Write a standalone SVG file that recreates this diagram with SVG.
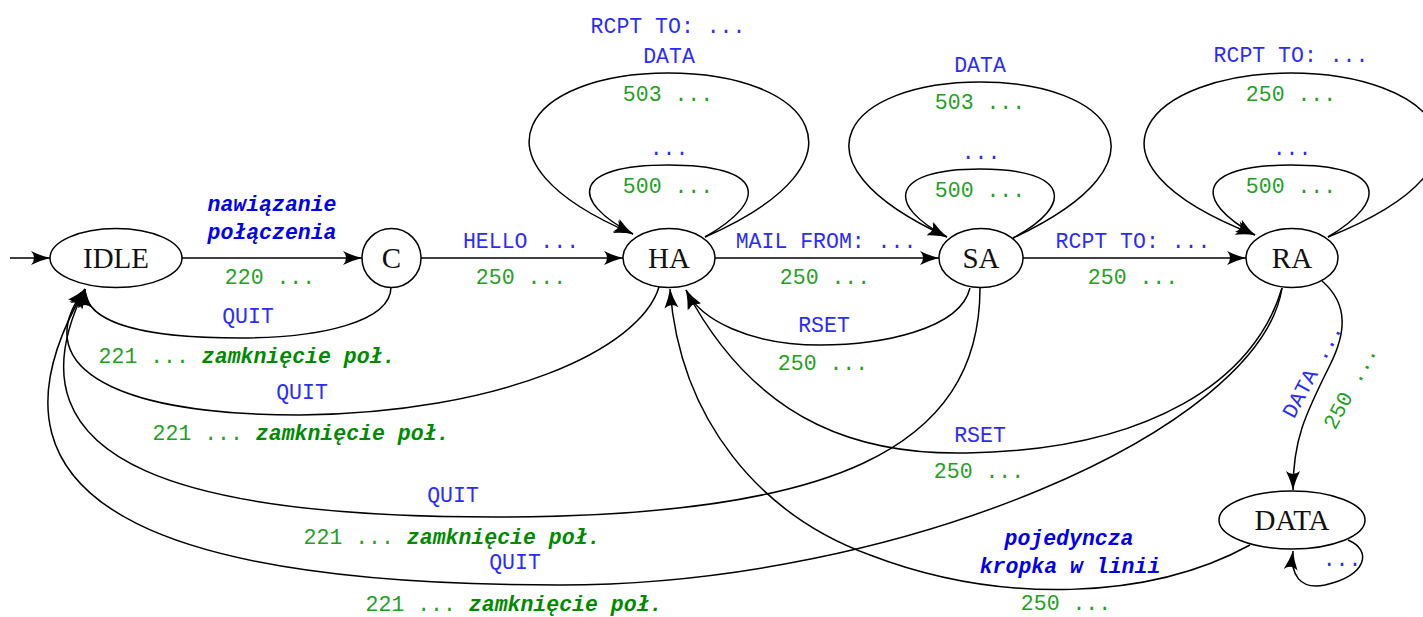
<svg xmlns="http://www.w3.org/2000/svg" width="1423" height="617" viewBox="0 0 1423 617">
<style>
  .node{fill:#fff;stroke:#000;stroke-width:1.5}
  .nt{font-family:"Liberation Serif",serif;font-size:29px;fill:#111;text-anchor:middle}
  .e{fill:none;stroke:#000;stroke-width:1.5;marker-end:url(#arr)}
  .b{font-family:"Liberation Mono",monospace;font-size:21.5px;fill:#2b2bff;text-anchor:middle}
  .g{font-family:"Liberation Mono",monospace;font-size:21.5px;fill:#23a023;text-anchor:middle}
  .bi{font-family:"Liberation Mono",monospace;font-size:21.5px;fill:#0000ee;font-style:italic;font-weight:bold}
  .gi{font-family:"Liberation Mono",monospace;font-size:21.5px;fill:#008a00;font-style:italic;font-weight:bold}
  .c{text-anchor:middle}
</style>
<defs>
  <marker id="arr" viewBox="-21 -9 23 18" refX="0" refY="0" markerWidth="23" markerHeight="18" orient="auto" markerUnits="userSpaceOnUse">
    <path d="M0,0 Q-10,-2.5 -19,-7 Q-13,0 -19,7 Q-10,2.5 0,0 Z" fill="#000"/>
  </marker>
</defs>
<rect width="1423" height="617" fill="#fff"/>

<g id="connectors">
  <path class="e" d="M10,258 L50,258"/>
  <path class="e" d="M182,258 L362,258"/>
  <path class="e" d="M421,258 L623,258"/>
  <path class="e" d="M715,258 L939,258"/>
  <path class="e" d="M1023,258 L1246,258"/>
  <!-- HA loops -->
  <path class="e" d="M705,237 C880,160 810,73 668,73 C528,73 458,160 633,234"/>
  <path class="e" d="M705,237 C770,200 765,165 668,165 C573,165 568,200 633,234"/>
  <!-- SA loops -->
  <path class="e" d="M1013,238 C1180,160 1110,82 980,82 C850,82 780,160 947,237"/>
  <path class="e" d="M1013,238 C1075,205 1070,169 980,169 C890,169 885,205 947,237"/>
  <!-- RA loops -->
  <path class="e" d="M1328,237 C1520,160 1430,73 1291,73 C1152,73 1062,160 1255,235"/>
  <path class="e" d="M1328,237 C1390,200 1385,165 1291,165 C1197,165 1192,200 1255,235"/>
  <!-- RA -> DATA -->
  <path class="e" d="M1322,281 C1350,305 1345,335 1330,365 C1305,415 1293,440 1293,490"/>
  <!-- DATA self loop -->
  <path class="e" d="M1348,540 C1372,550 1368,575 1325,585 C1300,590 1290,575 1293,551"/>
  <!-- DATA -> HA -->
  <path class="e" d="M1250,545 C1150,600 1000,605 870,555 C760,515 680,420 670,289"/>
  <!-- SA -> HA RSET -->
  <path class="e" d="M970,288 C960,330 880,345 820,345 C750,345 700,320 686,290"/>
  <!-- RA -> HA RSET -->
  <path class="e" d="M1282,288 C1255,380 1150,450 967,453 C870,455 760,430 686,290"/>
  <!-- C -> IDLE -->
  <path class="e" d="M391,287 C391,322 320,338 240,338 C150,338 85,325 85,289"/>
  <!-- HA -> IDLE -->
  <path class="e" d="M659,287 C640,350 500,413 300,415 C100,415 30,360 85,289"/>
  <!-- SA -> IDLE -->
  <path class="e" d="M980,288 C980,450 830,517 495,517 C200,517 -5,470 85,289"/>
  <!-- RA -> IDLE -->
  <path class="e" d="M1282,288 C1260,430 900,585 560,585 C200,585 -50,520 85,289"/>
</g>

<g id="labels">
  <text class="bi c" x="272" y="211">nawiązanie</text>
  <text class="bi c" x="272" y="239">połączenia</text>
  <text class="g" x="270" y="284">220 ...</text>
  <text class="b" x="248" y="323">QUIT</text>
  <text class="gi c" x="247" y="363"><tspan class="g" style="font-style:normal;font-weight:normal">221 ... </tspan>zamknięcie poł.</text>

  <text class="b" x="521" y="248">HELLO ...</text>
  <text class="g" x="521" y="284">250 ...</text>
  <text class="b" x="826" y="248">MAIL FROM: ...</text>
  <text class="g" x="825" y="284">250 ...</text>
  <text class="b" x="1133" y="248">RCPT TO: ...</text>
  <text class="g" x="1133" y="284">250 ...</text>

  <text class="b" x="668" y="33">RCPT TO: ...</text>
  <text class="b" x="669" y="63">DATA</text>
  <text class="g" x="668" y="101">503 ...</text>
  <text class="b" x="669" y="155">...</text>
  <text class="g" x="668" y="193">500 ...</text>

  <text class="b" x="980" y="72">DATA</text>
  <text class="g" x="980" y="109">503 ...</text>
  <text class="b" x="981" y="159">...</text>
  <text class="g" x="980" y="197">500 ...</text>

  <text class="b" x="1291" y="62">RCPT TO: ...</text>
  <text class="g" x="1291" y="101">250 ...</text>
  <text class="b" x="1292" y="155">...</text>
  <text class="g" x="1291" y="193">500 ...</text>

  <text class="b" transform="translate(1313,371) rotate(-62)" x="0" y="6">DATA ...</text>
  <text class="g" transform="translate(1351,388) rotate(-62)" x="0" y="6">250 ...</text>
  <text class="b" x="1342" y="566">...</text>

  <text class="b" x="824" y="332">RSET</text>
  <text class="g" x="823" y="370">250 ...</text>
  <text class="b" x="980" y="442">RSET</text>
  <text class="g" x="979" y="478">250 ...</text>

  <text class="b" x="302" y="399">QUIT</text>
  <text class="gi c" x="301" y="440"><tspan class="g" style="font-style:normal;font-weight:normal">221 ... </tspan>zamknięcie poł.</text>
  <text class="b" x="453" y="502">QUIT</text>
  <text class="gi c" x="452" y="544"><tspan class="g" style="font-style:normal;font-weight:normal">221 ... </tspan>zamknięcie poł.</text>
  <text class="b" x="515" y="569">QUIT</text>
  <text class="gi c" x="514" y="611"><tspan class="g" style="font-style:normal;font-weight:normal">221 ... </tspan>zamknięcie poł.</text>

  <text class="bi c" x="1069" y="545">pojedyncza</text>
  <text class="bi c" x="1070" y="573">kropka w linii</text>
  <text class="g" x="1066" y="610">250 ...</text>
</g>

<g id="node-IDLE"><ellipse class="node" cx="116" cy="258" rx="66" ry="29.5"/><text class="nt" x="116" y="268">IDLE</text></g>
<g id="node-C"><circle class="node" cx="391.5" cy="258" r="29.5"/><text class="nt" x="391.5" y="268">C</text></g>
<g id="node-HA"><ellipse class="node" cx="669" cy="258" rx="46" ry="29.5"/><text class="nt" x="669" y="268">HA</text></g>
<g id="node-SA"><ellipse class="node" cx="981" cy="258" rx="42" ry="29.5"/><text class="nt" x="981" y="268">SA</text></g>
<g id="node-RA"><ellipse class="node" cx="1292" cy="258" rx="46" ry="29.5"/><text class="nt" x="1292" y="268">RA</text></g>
<g id="node-DATA"><ellipse class="node" cx="1292" cy="520" rx="73" ry="29"/><text class="nt" x="1292" y="530">DATA</text></g>
</svg>
